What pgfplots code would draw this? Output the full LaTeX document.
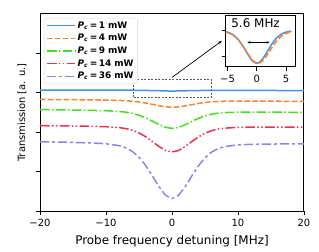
\documentclass[border=0pt]{standalone}
\usepackage{fontspec}
\setmainfont{DejaVu Sans}
\usepackage{pgfplots}
\pgfplotsset{compat=1.18}
\usetikzlibrary{arrows.meta}
\definecolor{cblue}{HTML}{4A90E2}
\definecolor{corange}{HTML}{FF7F2A}
\definecolor{cgreen}{HTML}{44DD22}
\definecolor{cred}{HTML}{E8334A}
\definecolor{cpurple}{HTML}{9A7CF0}
\begin{document}
\begin{tikzpicture}
\useasboundingbox (-40bp,-41bp) rectangle (279bp,211bp);
\begin{axis}[
  scale only axis, width=264bp, height=197bp,
  xmin=-20, xmax=20, ymin=0, ymax=0.997,
  xtick={-20,-10,0,10,20}, xticklabels={−20,−10,0,10,20},
  ytick={0,0.2,0.4,0.6,0.8}, yticklabels={},
  tick pos=left, tick align=outside, major tick length=4bp,
  tick style={black, line width=0.8bp},
  axis line style={line width=1bp},
  ticklabel style={font=\fontsize{10}{11}\selectfont},
  xticklabel style={yshift=-1bp},
  xlabel={Probe frequency detuning [MHz]},
  ylabel={Transmission [a. u.]},
  label style={font=\fontsize{12}{14}\selectfont},
  xlabel style={yshift=-2bp},
  every axis y label/.style={at={(axis description cs:-0.068,0.5)}, rotate=90, anchor=center},
  legend cell align=left,
  legend image code/.code={\draw[#1, line width=1.5bp] (0bp,0bp) -- (28bp,0bp);},
  legend style={at={(axis description cs:0.015,0.98)}, anchor=north west,
    draw=black!15, rounded corners=2bp, fill=white,
    font=\fontsize{9}{10.5}\selectfont, row sep=0.6bp, inner xsep=2bp, inner ysep=1.5bp},
]
\addplot[cblue, line width=1.5bp, solid] coordinates {(-20,0.612) (-8,0.6115) (-5,0.611) (-3,0.6095) (-2,0.6088) (-1,0.6075) (0,0.607) (1,0.6075) (2,0.6085) (3,0.6092) (5,0.6102) (8,0.6105) (20,0.6095)};
\addlegendentry{\textbf{\textit{P}\textsubscript{\textit{c}}\,=\,1 mW}}
\addplot[corange, line width=1.5bp, dash pattern=on 5.5bp off 2.4bp] coordinates {(-20,0.5647) (-16,0.5635) (-12,0.5622) (-10,0.5613) (-8,0.5597) (-7,0.5581) (-6,0.5556) (-5,0.5519) (-4,0.5465) (-3,0.5400) (-2,0.5330) (-1,0.5274) (0,0.525) (1,0.5269) (2,0.5320) (3,0.5385) (4,0.5445) (5,0.5494) (6,0.5526) (7,0.5547) (8,0.5557) (10,0.5563) (12,0.5562) (16,0.5555) (20,0.5547)};
\addlegendentry{\textbf{\textit{P}\textsubscript{\textit{c}}\,=\,4 mW}}
\addplot[cgreen, line width=1.5bp, dash pattern=on 9.6bp off 2.4bp on 1.5bp off 2.4bp] coordinates {(-20,0.5132) (-16,0.5114) (-12,0.5091) (-10,0.5074) (-8,0.5038) (-7,0.5003) (-6,0.4942) (-5,0.4849) (-4,0.4716) (-3,0.4553) (-2,0.4379) (-1,0.4238) (0,0.418) (1,0.4231) (2,0.4365) (3,0.4532) (4,0.4688) (5,0.4814) (6,0.4900) (7,0.4954) (8,0.4982) (10,0.5004) (12,0.5007) (16,0.5002) (20,0.4992)};
\addlegendentry{\textbf{\textit{P}\textsubscript{\textit{c}}\,=\,9 mW}}
\addplot[cred, line width=1.5bp, dash pattern=on 9.6bp off 2.4bp on 1.5bp off 2.4bp on 1.5bp off 2.4bp] coordinates {(-20,0.4318) (-16,0.4305) (-12,0.4285) (-10,0.4267) (-8,0.4221) (-7,0.4171) (-6,0.4087) (-5,0.3952) (-4,0.3761) (-3,0.3522) (-2,0.3271) (-1,0.3067) (0,0.2985) (1,0.3063) (2,0.3264) (3,0.3512) (4,0.3747) (5,0.3934) (6,0.4066) (7,0.4147) (8,0.4193) (10,0.4232) (12,0.4243) (16,0.4249) (20,0.4248)};
\addlegendentry{\textbf{\textit{P}\textsubscript{\textit{c}}\,=\,14 mW}}
\addplot[cpurple, line width=1.5bp, dash pattern=on 9bp off 3bp on 3bp off 3bp] coordinates {(-20,0.3505) (-16,0.348) (-12,0.344) (-10,0.3403) (-8,0.3306) (-7,0.3198) (-6,0.3015) (-5,0.2723) (-4,0.2308) (-3,0.1791) (-2,0.1245) (-1,0.0802) (0,0.0625) (1,0.0796) (2,0.1234) (3,0.1775) (4,0.2286) (5,0.2695) (6,0.2982) (7,0.316) (8,0.3262) (10,0.3348) (12,0.3374) (16,0.3392) (20,0.3395)};
\addlegendentry{\textbf{\textit{P}\textsubscript{\textit{c}}\,=\,36 mW}}
\draw[black!65, line width=0.8bp, dash pattern=on 2bp off 1.5bp] (axis cs:-5.8,0.575) rectangle (axis cs:6,0.664);
\draw[black, line width=0.7bp, -{Stealth[length=4bp,width=3bp]}] (axis cs:0,0.676) -- (axis cs:7.55,0.861);
\end{axis}
\begin{axis}[
  at={(185.5bp,144.3bp)}, anchor=south west,
  scale only axis, width=69.5bp, height=50.7bp,
  xmin=-5.35, xmax=6.55, ymin=-0.1, ymax=1.42,
  xtick={-5,0,5}, xticklabels={−5,0,5},
  ytick={0.2,1}, yticklabels={},
  tick pos=left, tick align=outside, major tick length=4bp,
  tick style={black, line width=0.8bp},
  axis line style={line width=1bp},
  ticklabel style={font=\fontsize{10}{11}\selectfont},
  xticklabel style={yshift=-1bp},
  axis background/.style={fill=white},
]
\addplot[cblue, line width=1.5bp, solid] coordinates {(-5.3,0.947) (-5,0.935) (-4.5,0.902) (-4,0.852) (-3.5,0.779) (-3,0.680) (-2.5,0.556) (-2,0.412) (-1.5,0.264) (-1,0.130) (-0.5,0.035) (0,0) (0.5,0.035) (1,0.130) (1.5,0.264) (2,0.412) (2.5,0.556) (3,0.680) (3.5,0.779) (4,0.852) (4.5,0.902) (5,0.935) (5.5,0.955) (5.9,0.965)};
\addplot[corange, line width=1.5bp, dash pattern=on 5.5bp off 2.4bp] coordinates {(-5.3,0.938) (-5,0.923) (-4.5,0.887) (-4,0.835) (-3.5,0.762) (-3,0.667) (-2.5,0.551) (-2,0.420) (-1.5,0.283) (-1,0.156) (-0.5,0.057) (0,0.005) (0.2,0) (0.5,0.011) (1,0.073) (1.5,0.179) (2,0.310) (2.5,0.447) (3,0.576) (3.5,0.688) (4,0.778) (4.5,0.847) (5,0.895) (5.5,0.928) (5.9,0.946)};
\draw[black, line width=0.7bp, {Stealth[length=3bp,width=2.5bp]}-{Stealth[length=3bp,width=2.5bp]}] (axis cs:-1.6,0.63) -- (axis cs:2.2,0.63);
\node[font=\fontsize{12}{14}\selectfont] at (axis cs:-0.2,1.2) {5.6 MHz};
\end{axis}
\end{tikzpicture}
\end{document}
